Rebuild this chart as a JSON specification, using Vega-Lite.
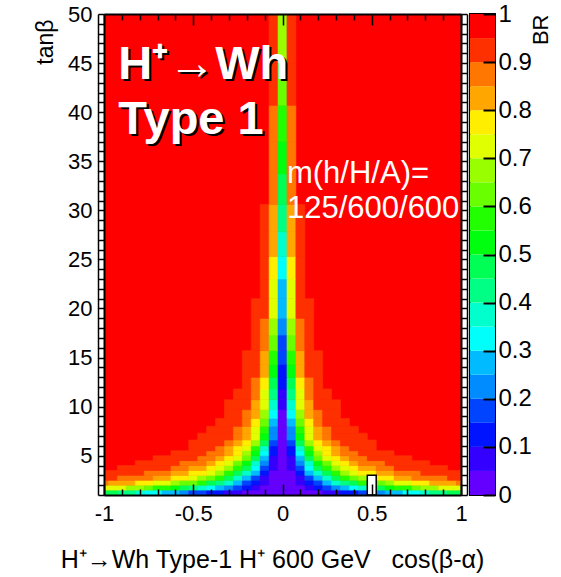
{
 "$schema": "https://vega.github.io/schema/vega-lite/v6.json",
 "padding": {"left": 34, "top": 1, "right": 5, "bottom": 5},
 "background": "white",
 "config": {"font": "Liberation Sans", "axis": {"labelColor": "black", "titleColor": "black", "grid": false}},
 "spacing": 9,
 "bounds": "flush",
 "datasets": {
  "rows": [
   {"t0":1,"t1":50,"x0":[-1],"x1":[1],"br":[0.975]},
   {"t0":1,"t1":1.5,"x0":[-1,-0.925,-0.825,-0.775,-0.675,-0.575,-0.525,-0.425,-0.325,-0.225,0.225,0.325,0.425,0.525,0.575,0.675,0.775,0.825,0.925],"x1":[-0.925,-0.825,-0.775,-0.675,-0.575,-0.525,-0.425,-0.325,-0.225,0.225,0.325,0.425,0.525,0.575,0.675,0.775,0.825,0.925,1],"br":[0.475,0.425,0.375,0.325,0.275,0.225,0.175,0.125,0.075,0.025,0.075,0.125,0.175,0.225,0.275,0.325,0.375,0.425,0.475]},
   {"t0":1.5,"t1":2,"x0":[-1,-0.875,-0.775,-0.725,-0.625,-0.575,-0.525,-0.475,-0.425,-0.375,-0.325,-0.275,-0.225,-0.175,-0.125,0.125,0.175,0.225,0.275,0.325,0.375,0.425,0.475,0.525,0.575,0.625,0.725,0.775,0.875],"x1":[-0.875,-0.775,-0.725,-0.625,-0.575,-0.525,-0.475,-0.425,-0.375,-0.325,-0.275,-0.225,-0.175,-0.125,0.125,0.175,0.225,0.275,0.325,0.375,0.425,0.475,0.525,0.575,0.625,0.725,0.775,0.875,1],"br":[0.725,0.675,0.625,0.575,0.525,0.475,0.425,0.375,0.325,0.275,0.225,0.175,0.125,0.075,0.025,0.075,0.125,0.175,0.225,0.275,0.325,0.375,0.425,0.475,0.525,0.575,0.625,0.675,0.725]},
   {"t0":2,"t1":2.5,"x0":[-1,-0.975,-0.825,-0.725,-0.625,-0.575,-0.475,-0.425,-0.375,-0.325,-0.275,-0.225,-0.175,-0.125,-0.075,0.075,0.125,0.175,0.225,0.275,0.325,0.375,0.425,0.475,0.575,0.625,0.725,0.825,0.975],"x1":[-0.975,-0.825,-0.725,-0.625,-0.575,-0.475,-0.425,-0.375,-0.325,-0.275,-0.225,-0.175,-0.125,-0.075,0.075,0.125,0.175,0.225,0.275,0.325,0.375,0.425,0.475,0.575,0.625,0.725,0.825,0.975,1],"br":[0.875,0.825,0.775,0.725,0.675,0.625,0.575,0.475,0.425,0.375,0.275,0.175,0.125,0.075,0.025,0.075,0.125,0.175,0.275,0.375,0.425,0.475,0.575,0.625,0.675,0.725,0.775,0.825,0.875]},
   {"t0":2.5,"t1":3,"x0":[-1,-0.925,-0.725,-0.625,-0.525,-0.475,-0.425,-0.375,-0.325,-0.275,-0.225,-0.175,-0.125,-0.075,0.075,0.125,0.175,0.225,0.275,0.325,0.375,0.425,0.475,0.525,0.625,0.725,0.925],"x1":[-0.925,-0.725,-0.625,-0.525,-0.475,-0.425,-0.375,-0.325,-0.275,-0.225,-0.175,-0.125,-0.075,0.075,0.125,0.175,0.225,0.275,0.325,0.375,0.425,0.475,0.525,0.625,0.725,0.925,1],"br":[0.925,0.875,0.825,0.775,0.725,0.675,0.625,0.575,0.475,0.375,0.275,0.175,0.075,0.025,0.075,0.175,0.275,0.375,0.475,0.575,0.625,0.675,0.725,0.775,0.825,0.875,0.925]},
   {"t0":3,"t1":3.5,"x0":[-1,-0.775,-0.625,-0.525,-0.425,-0.375,-0.325,-0.275,-0.225,-0.175,-0.125,-0.075,0.075,0.125,0.175,0.225,0.275,0.325,0.375,0.425,0.525,0.625,0.775],"x1":[-0.775,-0.625,-0.525,-0.425,-0.375,-0.325,-0.275,-0.225,-0.175,-0.125,-0.075,0.075,0.125,0.175,0.225,0.275,0.325,0.375,0.425,0.525,0.625,0.775,1],"br":[0.925,0.875,0.825,0.775,0.725,0.675,0.575,0.475,0.375,0.275,0.125,0.025,0.125,0.275,0.375,0.475,0.575,0.675,0.725,0.775,0.825,0.875,0.925]},
   {"t0":3.5,"t1":4,"x0":[-0.925,-0.625,-0.525,-0.425,-0.375,-0.325,-0.275,-0.225,-0.175,-0.125,-0.075,-0.025,0.025,0.075,0.125,0.175,0.225,0.275,0.325,0.375,0.425,0.525,0.625],"x1":[-0.625,-0.525,-0.425,-0.375,-0.325,-0.275,-0.225,-0.175,-0.125,-0.075,-0.025,0.025,0.075,0.125,0.175,0.225,0.275,0.325,0.375,0.425,0.525,0.625,0.925],"br":[0.925,0.875,0.825,0.775,0.725,0.675,0.575,0.475,0.325,0.175,0.075,0.025,0.075,0.175,0.325,0.475,0.575,0.675,0.725,0.775,0.825,0.875,0.925]},
   {"t0":4,"t1":4.5,"x0":[-0.825,-0.575,-0.425,-0.375,-0.325,-0.275,-0.225,-0.175,-0.125,-0.075,-0.025,0.025,0.075,0.125,0.175,0.225,0.275,0.325,0.375,0.425,0.575],"x1":[-0.575,-0.425,-0.375,-0.325,-0.275,-0.225,-0.175,-0.125,-0.075,-0.025,0.025,0.075,0.125,0.175,0.225,0.275,0.325,0.375,0.425,0.575,0.825],"br":[0.925,0.875,0.825,0.775,0.725,0.625,0.525,0.375,0.225,0.075,0.025,0.075,0.225,0.375,0.525,0.625,0.725,0.775,0.825,0.875,0.925]},
   {"t0":4.5,"t1":5,"x0":[-0.725,-0.475,-0.375,-0.325,-0.275,-0.225,-0.175,-0.125,-0.075,-0.025,0.025,0.075,0.125,0.175,0.225,0.275,0.325,0.375,0.475],"x1":[-0.475,-0.375,-0.325,-0.275,-0.225,-0.175,-0.125,-0.075,-0.025,0.025,0.075,0.125,0.175,0.225,0.275,0.325,0.375,0.475,0.725],"br":[0.925,0.875,0.825,0.775,0.725,0.625,0.475,0.275,0.075,0.025,0.075,0.275,0.475,0.625,0.725,0.775,0.825,0.875,0.925]},
   {"t0":5,"t1":5.5,"x0":[-0.625,-0.425,-0.325,-0.275,-0.225,-0.175,-0.125,-0.075,-0.025,0.025,0.075,0.125,0.175,0.225,0.275,0.325,0.425],"x1":[-0.425,-0.325,-0.275,-0.225,-0.175,-0.125,-0.075,-0.025,0.025,0.075,0.125,0.175,0.225,0.275,0.325,0.425,0.625],"br":[0.925,0.875,0.825,0.775,0.675,0.525,0.325,0.125,0.025,0.125,0.325,0.525,0.675,0.775,0.825,0.875,0.925]},
   {"t0":5.5,"t1":6,"x0":[-0.525,-0.375,-0.325,-0.275,-0.225,-0.175,-0.125,-0.075,-0.025,0.025,0.075,0.125,0.175,0.225,0.275,0.325,0.375],"x1":[-0.375,-0.325,-0.275,-0.225,-0.175,-0.125,-0.075,-0.025,0.025,0.075,0.125,0.175,0.225,0.275,0.325,0.375,0.525],"br":[0.925,0.875,0.825,0.775,0.725,0.575,0.375,0.125,0.025,0.125,0.375,0.575,0.725,0.775,0.825,0.875,0.925]},
   {"t0":6,"t1":6.6,"x0":[-0.525,-0.325,-0.275,-0.225,-0.175,-0.125,-0.075,-0.025,0.025,0.075,0.125,0.175,0.225,0.275,0.325],"x1":[-0.325,-0.275,-0.225,-0.175,-0.125,-0.075,-0.025,0.025,0.075,0.125,0.175,0.225,0.275,0.325,0.525],"br":[0.925,0.875,0.825,0.775,0.675,0.475,0.175,0.025,0.175,0.475,0.675,0.775,0.825,0.875,0.925]},
   {"t0":6.6,"t1":7.3,"x0":[-0.475,-0.275,-0.225,-0.175,-0.125,-0.075,-0.025,0.025,0.075,0.125,0.175,0.225,0.275],"x1":[-0.275,-0.225,-0.175,-0.125,-0.075,-0.025,0.025,0.075,0.125,0.175,0.225,0.275,0.475],"br":[0.925,0.875,0.825,0.725,0.525,0.225,0.025,0.225,0.525,0.725,0.825,0.875,0.925]},
   {"t0":7.3,"t1":8,"x0":[-0.425,-0.275,-0.225,-0.175,-0.125,-0.075,-0.025,0.025,0.075,0.125,0.175,0.225,0.275],"x1":[-0.275,-0.225,-0.175,-0.125,-0.075,-0.025,0.025,0.075,0.125,0.175,0.225,0.275,0.425],"br":[0.925,0.875,0.825,0.725,0.575,0.225,0.025,0.225,0.575,0.725,0.825,0.875,0.925]},
   {"t0":8,"t1":8.8,"x0":[-0.375,-0.225,-0.175,-0.125,-0.075,-0.025,0.025,0.075,0.125,0.175,0.225],"x1":[-0.225,-0.175,-0.125,-0.075,-0.025,0.025,0.075,0.125,0.175,0.225,0.375],"br":[0.925,0.875,0.775,0.625,0.275,0.025,0.275,0.625,0.775,0.875,0.925]},
   {"t0":8.8,"t1":9.7,"x0":[-0.325,-0.225,-0.175,-0.125,-0.075,-0.025,0.025,0.075,0.125,0.175,0.225],"x1":[-0.225,-0.175,-0.125,-0.075,-0.025,0.025,0.075,0.125,0.175,0.225,0.325],"br":[0.925,0.875,0.825,0.675,0.325,0.025,0.325,0.675,0.825,0.875,0.925]},
   {"t0":9.7,"t1":10.7,"x0":[-0.325,-0.175,-0.125,-0.075,-0.025,0.025,0.075,0.125,0.175],"x1":[-0.175,-0.125,-0.075,-0.025,0.025,0.075,0.125,0.175,0.325],"br":[0.925,0.825,0.725,0.375,0.075,0.375,0.725,0.825,0.925]},
   {"t0":10.7,"t1":11.8,"x0":[-0.275,-0.175,-0.125,-0.075,-0.025,0.025,0.075,0.125,0.175],"x1":[-0.175,-0.125,-0.075,-0.025,0.025,0.075,0.125,0.175,0.275],"br":[0.925,0.875,0.725,0.425,0.075,0.425,0.725,0.875,0.925]},
   {"t0":11.8,"t1":13,"x0":[-0.225,-0.175,-0.125,-0.075,-0.025,0.025,0.075,0.125,0.175],"x1":[-0.175,-0.125,-0.075,-0.025,0.025,0.075,0.125,0.175,0.225],"br":[0.925,0.875,0.775,0.475,0.125,0.475,0.775,0.875,0.925]},
   {"t0":13,"t1":14.3,"x0":[-0.225,-0.125,-0.075,-0.025,0.025,0.075,0.125],"x1":[-0.125,-0.075,-0.025,0.025,0.075,0.125,0.225],"br":[0.925,0.825,0.525,0.125,0.525,0.825,0.925]},
   {"t0":14.3,"t1":15.7,"x0":[-0.225,-0.125,-0.075,-0.025,0.025,0.075,0.125],"x1":[-0.125,-0.075,-0.025,0.025,0.075,0.125,0.225],"br":[0.925,0.825,0.575,0.175,0.575,0.825,0.925]},
   {"t0":15.7,"t1":17.3,"x0":[-0.175,-0.125,-0.075,-0.025,0.025,0.075,0.125],"x1":[-0.125,-0.075,-0.025,0.025,0.075,0.125,0.175],"br":[0.925,0.875,0.625,0.175,0.625,0.875,0.925]},
   {"t0":17.3,"t1":19,"x0":[-0.175,-0.125,-0.075,-0.025,0.025,0.075,0.125],"x1":[-0.125,-0.075,-0.025,0.025,0.075,0.125,0.175],"br":[0.925,0.875,0.675,0.225,0.675,0.875,0.925]},
   {"t0":19,"t1":21,"x0":[-0.175,-0.075,-0.025,0.025,0.075],"x1":[-0.075,-0.025,0.025,0.075,0.175],"br":[0.925,0.725,0.275,0.725,0.925]},
   {"t0":21,"t1":23,"x0":[-0.125,-0.075,-0.025,0.025,0.075],"x1":[-0.075,-0.025,0.025,0.075,0.125],"br":[0.925,0.725,0.275,0.725,0.925]},
   {"t0":23,"t1":25.3,"x0":[-0.125,-0.075,-0.025,0.025,0.075],"x1":[-0.075,-0.025,0.025,0.075,0.125],"br":[0.925,0.775,0.325,0.775,0.925]},
   {"t0":25.3,"t1":27.8,"x0":[-0.125,-0.075,-0.025,0.025,0.075],"x1":[-0.075,-0.025,0.025,0.075,0.125],"br":[0.925,0.825,0.375,0.825,0.925]},
   {"t0":27.8,"t1":30.6,"x0":[-0.125,-0.075,-0.025,0.025,0.075],"x1":[-0.075,-0.025,0.025,0.075,0.125],"br":[0.925,0.825,0.425,0.825,0.925]},
   {"t0":30.6,"t1":33.7,"x0":[-0.075,-0.025,0.025],"x1":[-0.025,0.025,0.075],"br":[0.875,0.475,0.875]},
   {"t0":33.7,"t1":37,"x0":[-0.075,-0.025,0.025],"x1":[-0.025,0.025,0.075],"br":[0.875,0.525,0.875]},
   {"t0":37,"t1":40.7,"x0":[-0.075,-0.025,0.025],"x1":[-0.025,0.025,0.075],"br":[0.875,0.575,0.875]},
   {"t0":40.7,"t1":45,"x0":[-0.075,-0.025,0.025],"x1":[-0.025,0.025,0.075],"br":[0.925,0.625,0.925]},
   {"t0":45,"t1":50,"x0":[-0.075,-0.025,0.025],"x1":[-0.025,0.025,0.075],"br":[0.925,0.675,0.925]}
  ],
  "missing": [{"x0":0.475,"x1":0.525,"t0":1,"t1":3}],
  "bigText": [{"x":-0.92,"y":43.4,"text":"H⁺→Wh"},{"x":-0.92,"y":37.8,"text":"Type 1"}],
  "smallText": [{"x":0.025,"y":32.8,"text":"m(h/H/A)="},{"x":0.025,"y":29.2,"text":"125/600/600"}],
  "levels": [
   {"lo":0,"hi":0.05,"br":0.025},{"lo":0.05,"hi":0.1,"br":0.075},{"lo":0.1,"hi":0.15,"br":0.125},{"lo":0.15,"hi":0.2,"br":0.175},{"lo":0.2,"hi":0.25,"br":0.225},{"lo":0.25,"hi":0.3,"br":0.275},{"lo":0.3,"hi":0.35,"br":0.325},{"lo":0.35,"hi":0.4,"br":0.375},{"lo":0.4,"hi":0.45,"br":0.425},{"lo":0.45,"hi":0.5,"br":0.475},{"lo":0.5,"hi":0.55,"br":0.525},{"lo":0.55,"hi":0.6,"br":0.575},{"lo":0.6,"hi":0.65,"br":0.625},{"lo":0.65,"hi":0.7,"br":0.675},{"lo":0.7,"hi":0.75,"br":0.725},{"lo":0.75,"hi":0.8,"br":0.775},{"lo":0.8,"hi":0.85,"br":0.825},{"lo":0.85,"hi":0.9,"br":0.875},{"lo":0.9,"hi":0.95,"br":0.925},{"lo":0.95,"hi":1,"br":0.975}
  ]
 },
 "hconcat": [
  {
   "width": 357,
   "height": 481,
   "view": {"stroke": null},
   "resolve": {"axis": {"x": "independent", "y": "independent"}},
   "layer": [
    {
     "data": {"name": "rows"},
     "transform": [{"flatten": ["x0", "x1", "br"]}],
     "mark": {"type": "rect", "clip": true, "strokeWidth": 0.6},
     "encoding": {
      "x": {"field": "x0", "type": "quantitative", "scale": {"domain": [-1, 1], "nice": false, "zero": false},
       "axis": {"orient": "bottom", "values": [-1, -0.5, 0, 0.5, 1], "format": "~g", "labelExpr": "replace(datum.label, '−', '-')", "ticks": false, "domain": true, "domainColor": "black", "domainWidth": 2, "labelFontSize": 22, "labelPadding": 8, "labelFlush": false, "labelOverlap": false, "title": "H⁺→Wh Type-1 H⁺ 600 GeV\u00a0\u00a0\u00a0cos(β-α)", "titleFontSize": 25, "titleFontWeight": "normal", "titleX": 168, "titleY": 72, "titleAlign": "center", "titleBaseline": "alphabetic", "zindex": 1}},
      "x2": {"field": "x1"},
      "y": {"field": "t0", "type": "quantitative", "scale": {"domain": [1, 50], "nice": false, "zero": false},
       "axis": {"orient": "left", "values": [1,2,3,4,5,6,7,8,9,10,11,12,13,14,15,16,17,18,19,20,21,22,23,24,25,26,27,28,29,30,31,32,33,34,35,36,37,38,39,40,41,42,43,44,45,46,47,48,49,50], "format": "~g", "labelExpr": "datum.value % 5 == 0 ? datum.label : ''", "tickSize": 6, "tickColor": "black", "tickWidth": 1.5, "domain": true, "domainColor": "black", "domainWidth": 2, "labelFontSize": 22, "labelPadding": 6, "labelFlush": false, "labelOverlap": false, "title": "tanβ", "titleFontSize": 23, "titleFontWeight": "normal", "titleAngle": 270, "titleX": -52, "titleY": 5, "titleAlign": "right", "titleBaseline": "alphabetic", "zindex": 1}},
      "y2": {"field": "t1"},
      "color": {"field": "br", "type": "quantitative", "legend": null,
       "scale": {"type": "threshold", "domain": [0.05,0.1,0.15,0.2,0.25,0.3,0.35,0.4,0.45,0.5,0.55,0.6,0.65,0.7,0.75,0.8,0.85,0.9,0.95],
        "range": ["#6300ff","#3300ff","#0014ff","#0044ff","#008bff","#00bbff","#00fffb","#00ffcc","#00ff85","#00ff55","#00ff0e","#22ff00","#69ff00","#99ff00","#e0ff00","#ffee00","#ffa700","#ff7700","#ff3000","#ff0000"]}},
      "stroke": {"field": "br", "type": "quantitative", "legend": null,
       "scale": {"type": "threshold", "domain": [0.05,0.1,0.15,0.2,0.25,0.3,0.35,0.4,0.45,0.5,0.55,0.6,0.65,0.7,0.75,0.8,0.85,0.9,0.95],
        "range": ["#6300ff","#3300ff","#0014ff","#0044ff","#008bff","#00bbff","#00fffb","#00ffcc","#00ff85","#00ff55","#00ff0e","#22ff00","#69ff00","#99ff00","#e0ff00","#ffee00","#ffa700","#ff7700","#ff3000","#ff0000"]}}
     }
    },
    {
     "data": {"name": "missing"},
     "mark": {"type": "rect", "fill": "white", "stroke": "black", "strokeWidth": 1.5},
     "encoding": {
      "x": {"field": "x0", "type": "quantitative", "scale": {"domain": [-1, 1], "nice": false, "zero": false},
       "axis": {"orient": "bottom", "values": [-1,-0.9,-0.8,-0.7,-0.6,-0.5,-0.4,-0.3,-0.2,-0.1,0,0.1,0.2,0.3,0.4,0.5,0.6,0.7,0.8,0.9,1], "tickSize": {"condition": {"test": "abs(datum.value * 2 - round(datum.value * 2)) < 0.01", "value": -11}, "value": -6}, "tickColor": "black", "tickWidth": 1.5, "labels": false, "domain": false, "title": null, "zindex": 1}},
      "x2": {"field": "x1"},
      "y": {"field": "t0", "type": "quantitative", "scale": {"domain": [1, 50], "nice": false, "zero": false},
       "axis": {"orient": "left", "offset": 6, "ticks": false, "labels": false, "domain": true, "domainColor": "black", "domainWidth": 1.5, "title": null, "zindex": 1}},
      "y2": {"field": "t1"}
     }
    },
    {
     "data": {"name": "bigText"},
     "mark": {"type": "text", "align": "left", "baseline": "alphabetic", "fontSize": 47, "fontWeight": "bold", "color": "black", "dx": 2, "dy": 2},
     "encoding": {
      "x": {"field": "x", "type": "quantitative", "scale": {"domain": [-1, 1], "nice": false, "zero": false},
       "axis": {"orient": "top", "values": [-1,-0.9,-0.8,-0.7,-0.6,-0.5,-0.4,-0.3,-0.2,-0.1,0,0.1,0.2,0.3,0.4,0.5,0.6,0.7,0.8,0.9,1], "tickSize": {"condition": {"test": "abs(datum.value * 2 - round(datum.value * 2)) < 0.01", "value": -11}, "value": -6}, "tickColor": "black", "tickWidth": 1.5, "labels": false, "domain": true, "domainColor": "black", "domainWidth": 2, "title": null, "zindex": 1}},
      "y": {"field": "y", "type": "quantitative", "scale": {"domain": [1, 50], "nice": false, "zero": false},
       "axis": {"orient": "right", "values": [1,2,3,4,5,6,7,8,9,10,11,12,13,14,15,16,17,18,19,20,21,22,23,24,25,26,27,28,29,30,31,32,33,34,35,36,37,38,39,40,41,42,43,44,45,46,47,48,49,50], "tickSize": 6, "tickColor": "black", "tickWidth": 1.5, "labels": false, "domain": true, "domainColor": "black", "domainWidth": 2, "title": null, "zindex": 1}},
      "text": {"field": "text"}
     }
    },
    {
     "data": {"name": "bigText"},
     "mark": {"type": "text", "align": "left", "baseline": "alphabetic", "fontSize": 47, "fontWeight": "bold", "color": "white"},
     "encoding": {
      "x": {"field": "x", "type": "quantitative", "scale": {"domain": [-1, 1], "nice": false, "zero": false}, "axis": null},
      "y": {"field": "y", "type": "quantitative", "scale": {"domain": [1, 50], "nice": false, "zero": false},
       "axis": {"orient": "right", "offset": 6, "ticks": false, "labels": false, "domain": true, "domainColor": "black", "domainWidth": 1.5, "title": null, "zindex": 1}},
      "text": {"field": "text"}
     }
    },
    {
     "data": {"name": "smallText"},
     "mark": {"type": "text", "align": "left", "baseline": "alphabetic", "fontSize": 31, "color": "white"},
     "encoding": {
      "x": {"field": "x", "type": "quantitative", "scale": {"domain": [-1, 1], "nice": false, "zero": false}, "axis": null},
      "y": {"field": "y", "type": "quantitative", "scale": {"domain": [1, 50], "nice": false, "zero": false}, "axis": null},
      "text": {"field": "text"}
     }
    }
   ]
  },
  {
   "width": 25,
   "height": 481,
   "data": {"name": "levels"},
   "view": {"stroke": "black", "strokeWidth": 2},
   "mark": {"type": "rect"},
   "encoding": {
    "x": {"value": 0},
    "x2": {"value": "width"},
    "y": {"field": "lo", "type": "quantitative", "scale": {"domain": [0, 1], "nice": false, "zero": false},
     "axis": {"orient": "right", "values": [0,0.1,0.2,0.3,0.4,0.5,0.6,0.7,0.8,0.9,1], "format": "~g", "tickSize": -12, "tickColor": "black", "tickWidth": 2, "domain": false, "labelFontSize": 24, "labelPadding": 15, "labelFlush": false, "labelOverlap": false, "title": "BR", "titleFontSize": 22, "titleFontWeight": "normal", "titleAngle": 270, "titleAlign": "right", "titleBaseline": "alphabetic", "titleX": 52, "titleY": 0, "zindex": 1}},
    "y2": {"field": "hi"},
    "color": {"field": "br", "type": "quantitative", "legend": null,
     "scale": {"type": "threshold", "domain": [0.05,0.1,0.15,0.2,0.25,0.3,0.35,0.4,0.45,0.5,0.55,0.6,0.65,0.7,0.75,0.8,0.85,0.9,0.95],
      "range": ["#6300ff","#3300ff","#0014ff","#0044ff","#008bff","#00bbff","#00fffb","#00ffcc","#00ff85","#00ff55","#00ff0e","#22ff00","#69ff00","#99ff00","#e0ff00","#ffee00","#ffa700","#ff7700","#ff3000","#ff0000"]}}
   }
  }
 ]
}
